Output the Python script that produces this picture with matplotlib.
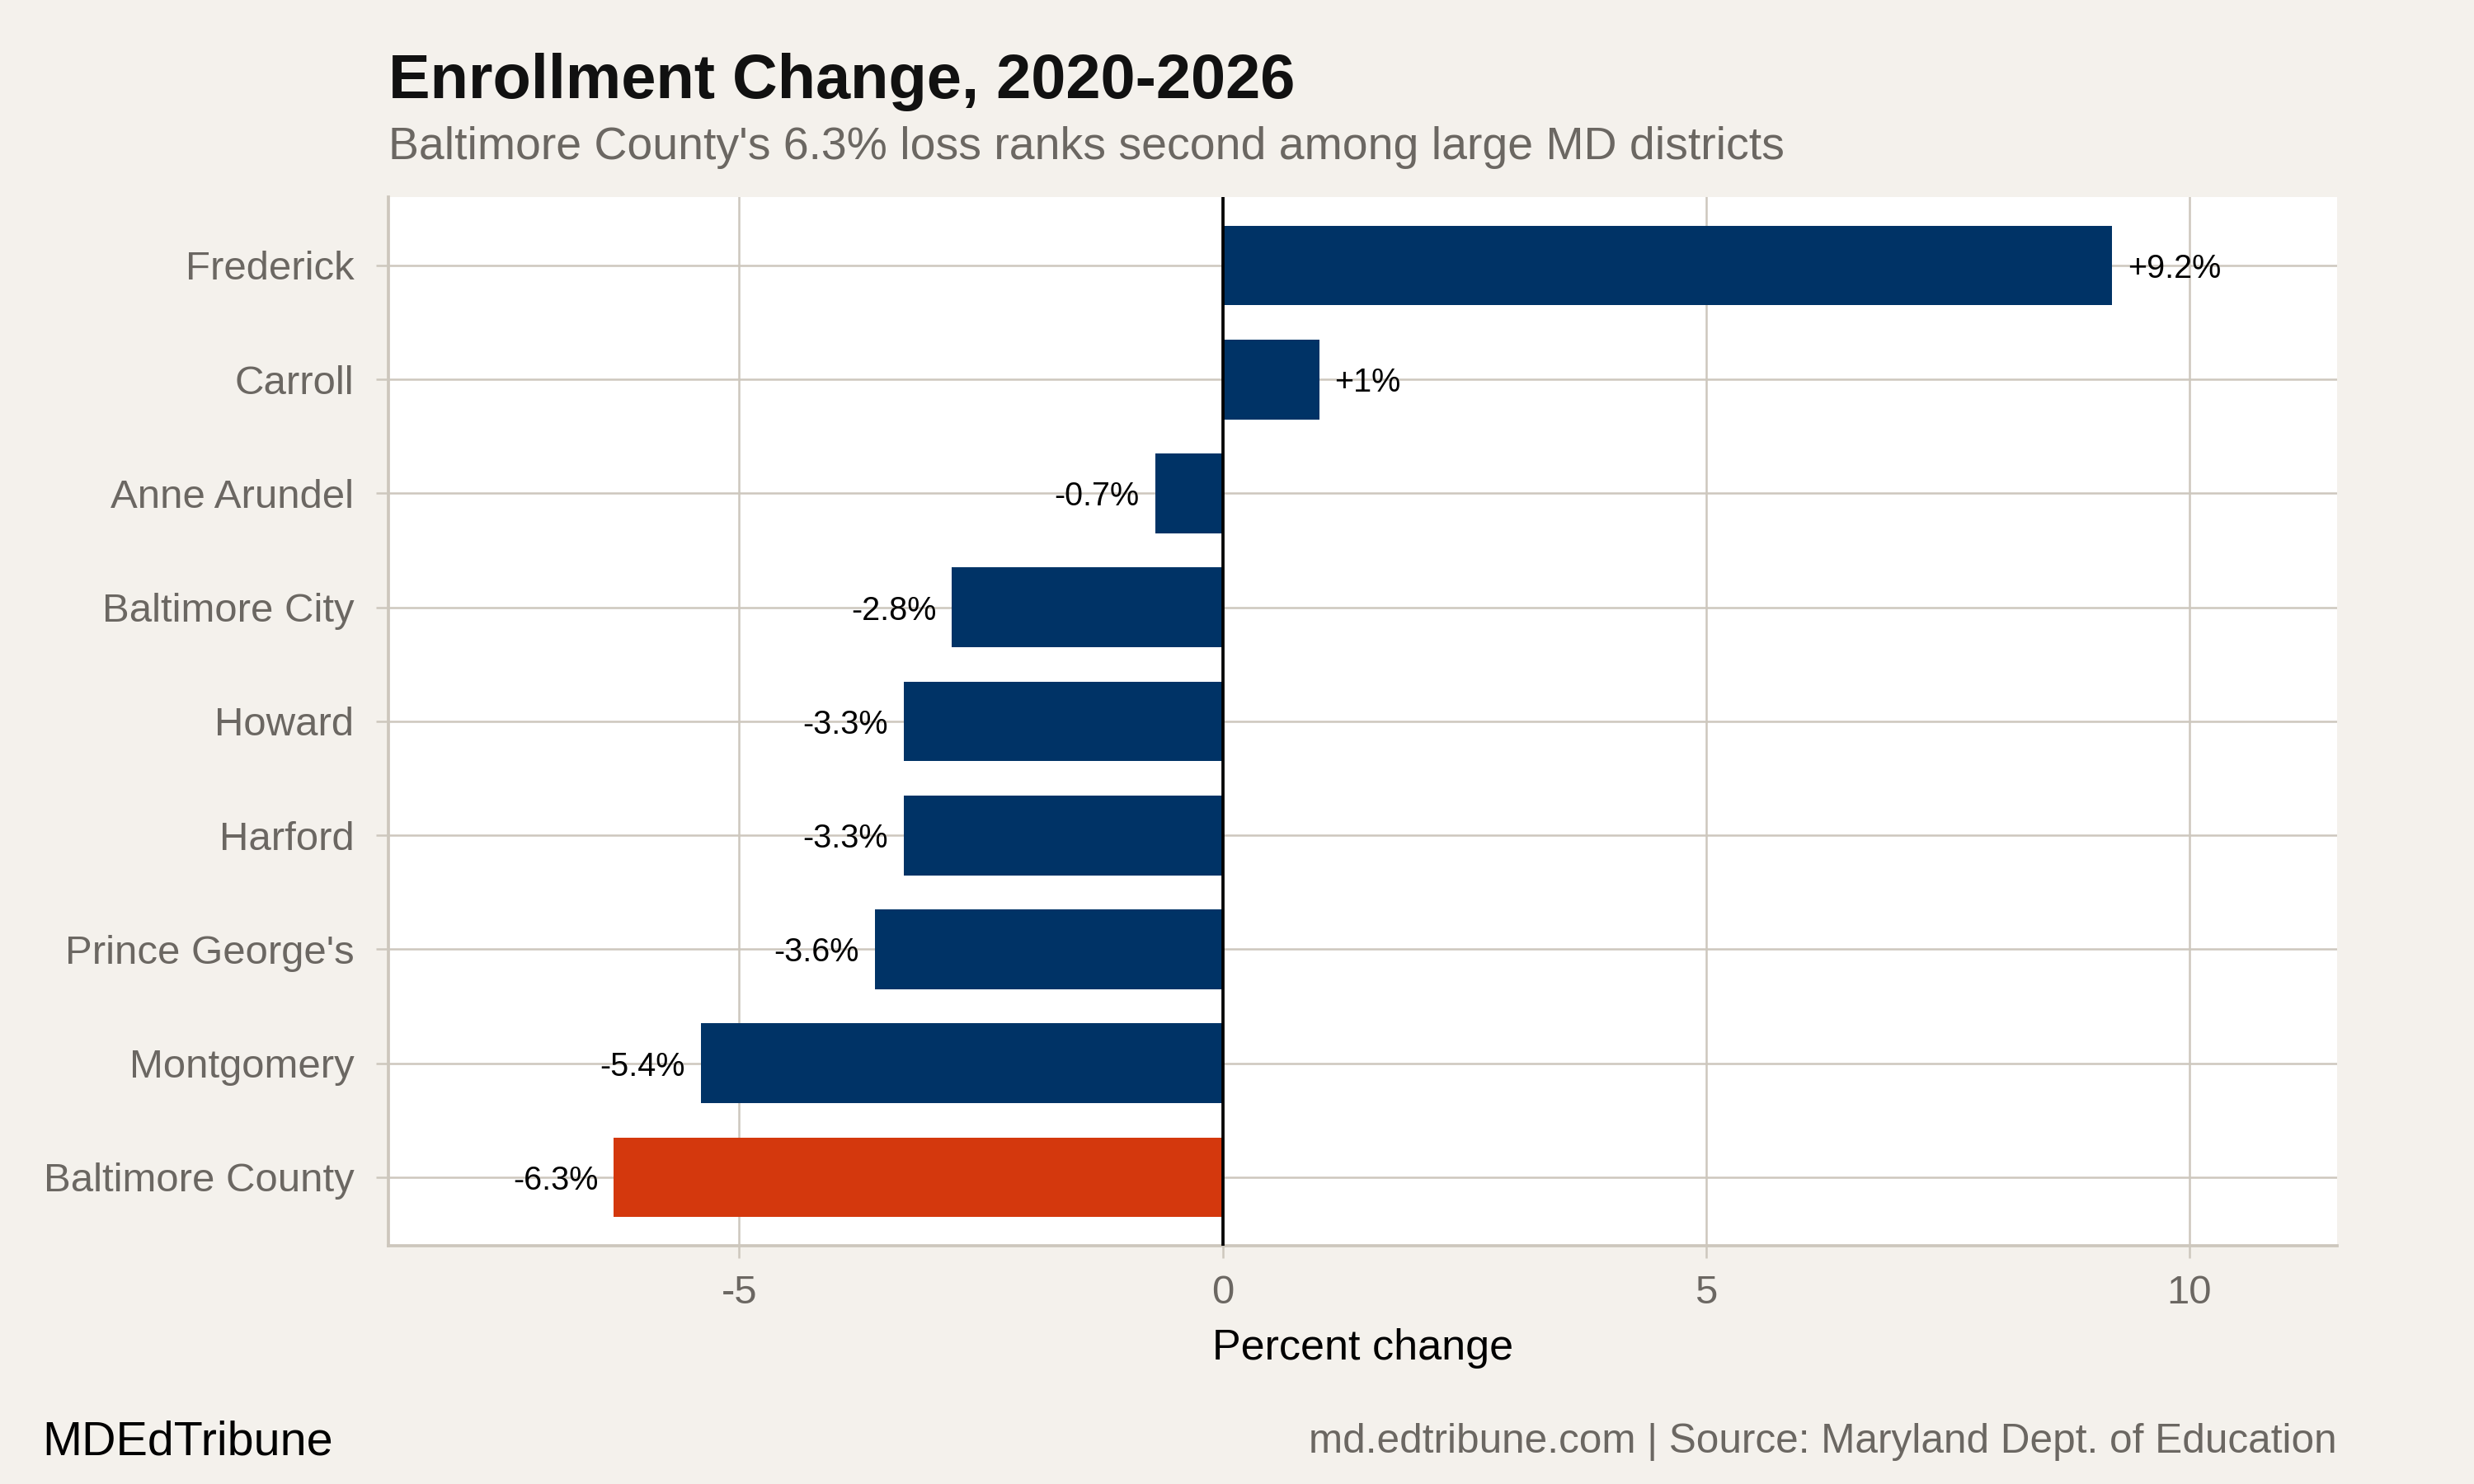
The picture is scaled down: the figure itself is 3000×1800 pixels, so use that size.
import matplotlib
matplotlib.use("Agg")
import matplotlib.pyplot as plt

plt.rcParams['font.family'] = ['Liberation Sans', 'DejaVu Sans']

# Data (top to bottom)
districts = ["Frederick", "Carroll", "Anne Arundel", "Baltimore City", "Howard",
             "Harford", "Prince George's", "Montgomery", "Baltimore County"]
pct_change = [9.2, 1.0, -0.7, -2.8, -3.3, -3.3, -3.6, -5.4, -6.3]
highlight = "Baltimore County"

bg = '#f4f1ec'
navy = '#003366'
orange = '#d4380d'
grid_col = '#cdc7bd'
gray_txt = '#6b6762'

fig = plt.figure(figsize=(10, 6), dpi=300, facecolor=bg)
ax = fig.add_axes([0.157, 0.1606, 0.7877, 0.7066])
ax.set_facecolor('white')

n = len(districts)
ypos = [n - 1 - i for i in range(n)]
colors = [orange if d == highlight else navy for d in districts]

ax.barh(ypos, pct_change, height=0.7, color=colors, zorder=3)
ax.axvline(0, color='black', lw=0.9, zorder=4)

# value labels
for y, v in zip(ypos, pct_change):
    lab = f"{v:+g}%"
    if v >= 0:
        ax.annotate(lab, (v, y), xytext=(4.5, 0), textcoords='offset points',
                    ha='left', va='center_baseline', fontsize=9.5, color='black', zorder=5)
    else:
        ax.annotate(lab, (v, y), xytext=(-4.5, 0), textcoords='offset points',
                    ha='right', va='center_baseline', fontsize=9.5, color='black', zorder=5)

ax.set_xlim(-8.63, 11.53)
ax.set_ylim(-0.6, n - 0.4)
ax.set_yticks(ypos)
ax.set_yticklabels(districts)
ax.set_xticks([-5, 0, 5, 10])
ax.set_xticklabels(['-5', '0', '5', '10'])

ax.grid(True, color=grid_col, lw=0.6, zorder=0)
ax.set_axisbelow(True)

for side in ['top', 'right']:
    ax.spines[side].set_visible(False)
for side in ['left', 'bottom']:
    ax.spines[side].set_color(grid_col)
    ax.spines[side].set_linewidth(0.9)

ax.tick_params(axis='both', colors=grid_col, length=3.5, width=0.6,
               labelsize=11.8, labelcolor=gray_txt)
ax.tick_params(axis='y', pad=6.5)
ax.tick_params(axis='x', pad=5)

ax.set_xlabel("Percent change", fontsize=12.5, color='black', va='baseline')
ax.xaxis.set_label_coords(0.5, (0.084 - 0.1606) / 0.7066)

fig.text(0.157, 0.934, "Enrollment Change, 2020-2026", fontsize=18.2,
         fontweight='bold', color='#111111', ha='left', va='baseline')
fig.text(0.157, 0.893, "Baltimore County's 6.3% loss ranks second among large MD districts",
         fontsize=13.3, color=gray_txt, ha='left', va='baseline')

fig.text(0.0172, 0.0195, "MDEdTribune", fontsize=13.8, color='black',
         ha='left', va='baseline')
fig.text(0.9447, 0.021, "md.edtribune.com | Source: Maryland Dept. of Education",
         fontsize=11.9, color=gray_txt, ha='right', va='baseline')

fig.savefig('out.png', dpi=300, facecolor=bg)
